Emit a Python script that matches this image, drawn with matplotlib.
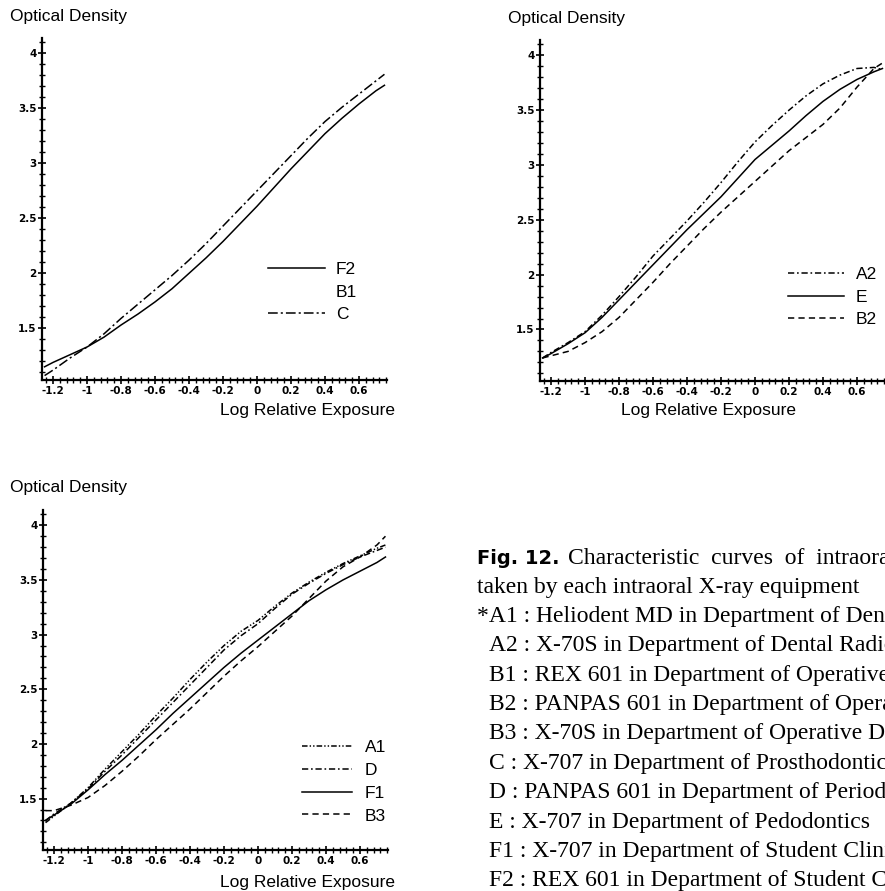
import matplotlib
matplotlib.use('Agg')
import numpy as np
import matplotlib.pyplot as plt
from matplotlib.ticker import MultipleLocator, FormatStrFormatter
from matplotlib.lines import Line2D

plt.rcParams['axes.unicode_minus'] = False
plt.rcParams['lines.scale_dashes'] = False

W, H = 885, 891

# log relative exposure, shared by every curve
logE = [-1.25, -1.2, -1.1, -1.0, -0.9, -0.8, -0.7, -0.6, -0.5, -0.4, -0.3,
        -0.2, -0.1, 0.0, 0.1, 0.2, 0.3, 0.4, 0.5, 0.6, 0.7, 0.75]

# panel 1
od_F2 = [1.15, 1.19, 1.26, 1.33, 1.42, 1.53, 1.63, 1.74, 1.86, 2.00, 2.14,
         2.29, 2.45, 2.61, 2.78, 2.95, 3.11, 3.27, 3.41, 3.54, 3.66, 3.71]
od_C = [1.07, 1.12, 1.23, 1.33, 1.45, 1.59, 1.72, 1.85, 1.98, 2.12, 2.27,
        2.43, 2.59, 2.75, 2.91, 3.07, 3.23, 3.38, 3.51, 3.63, 3.75, 3.81]

# panel 2
od_A2 = [1.24, 1.29, 1.38, 1.48, 1.63, 1.80, 1.98, 2.17, 2.33, 2.49, 2.66,
         2.84, 3.03, 3.21, 3.36, 3.50, 3.63, 3.74, 3.82, 3.88, 3.89, 3.87]
od_E = [1.24, 1.28, 1.37, 1.47, 1.61, 1.77, 1.93, 2.09, 2.25, 2.41, 2.56,
        2.71, 2.88, 3.05, 3.18, 3.31, 3.45, 3.58, 3.69, 3.78, 3.85, 3.88]
od_B2 = [1.24, 1.26, 1.30, 1.38, 1.48, 1.61, 1.77, 1.93, 2.10, 2.26, 2.42,
         2.57, 2.71, 2.85, 2.99, 3.13, 3.25, 3.37, 3.52, 3.71, 3.88, 3.93]

# panel 3
od_A1 = [1.28, 1.34, 1.46, 1.60, 1.77, 1.93, 2.09, 2.26, 2.42, 2.59, 2.75,
         2.90, 3.03, 3.13, 3.26, 3.38, 3.48, 3.57, 3.65, 3.72, 3.79, 3.82]
od_D = [1.30, 1.36, 1.46, 1.59, 1.75, 1.90, 2.06, 2.22, 2.38, 2.54, 2.70,
        2.86, 2.99, 3.10, 3.24, 3.37, 3.47, 3.56, 3.64, 3.71, 3.77, 3.80]
od_F1 = [1.30, 1.35, 1.45, 1.58, 1.72, 1.85, 1.99, 2.13, 2.28, 2.42, 2.56,
         2.70, 2.83, 2.95, 3.07, 3.19, 3.31, 3.41, 3.50, 3.58, 3.66, 3.71]
od_B3 = [1.39, 1.39, 1.44, 1.51, 1.62, 1.75, 1.89, 2.04, 2.18, 2.32, 2.47,
         2.62, 2.76, 2.89, 3.03, 3.17, 3.33, 3.49, 3.62, 3.71, 3.82, 3.90]

caption_head = 'Fig. 12.'
caption_first = 'Characteristic  curves  of  intraoral  films'
caption_lines = [
    'taken by each intraoral X-ray equipment',
    '*A1 : Heliodent MD in Department of Dental Radiology',
    'A2 : X-70S in Department of Dental Radiology',
    'B1 : REX 601 in Department of Operative Dentistry',
    'B2 : PANPAS 601 in Department of Operative Dentistry',
    'B3 : X-70S in Department of Operative Dentistry',
    'C : X-707 in Department of Prosthodontics',
    'D : PANPAS 601 in Department of Periodontology',
    'E : X-707 in Department of Pedodontics',
    'F1 : X-707 in Department of Student Clinic',
    'F2 : REX 601 in Department of Student Clinic',
]

SANS = 'Liberation Sans'
SERIF = 'Liberation Serif'

STYLES = {
    'solid': dict(linestyle='-'),
    'dashdot_long': dict(dashes=(7, 2.2, 1.5, 2.2)),
    'dashdot': dict(dashes=(4.5, 2, 1.2, 2)),
    'dashdotdot': dict(dashes=(4, 1.5, 1, 1.5, 1, 1.5)),
    'dashed': dict(dashes=(4.5, 3)),
}


def fx(x):
    return x / W


def fy(y):
    return 1 - y / H


def make_axes(fig, left, top, right, bottom):
    ax = fig.add_axes([fx(left), fy(bottom), fx(right - left), (bottom - top) / H])
    ax.set_xlim(-1.265, 0.765)
    ax.set_ylim(1.03, 4.14)
    for s in ['top', 'right']:
        ax.spines[s].set_visible(False)
    for s in ['left', 'bottom']:
        ax.spines[s].set_linewidth(1.6)
    ax.xaxis.set_major_locator(MultipleLocator(0.2))
    ax.xaxis.set_minor_locator(MultipleLocator(0.04))
    ax.yaxis.set_major_locator(MultipleLocator(0.5))
    ax.yaxis.set_minor_locator(MultipleLocator(0.1))
    ax.xaxis.set_major_formatter(FormatStrFormatter('%g'))
    ax.yaxis.set_major_formatter(FormatStrFormatter('%g'))
    ax.set_yticks([1.5, 2, 2.5, 3, 3.5, 4])
    ax.tick_params(which='major', direction='inout', length=6, width=1.2,
                   labelsize=7.5, pad=1)
    ax.tick_params(which='minor', direction='inout', length=4, width=1.0)
    for lab in ax.get_xticklabels() + ax.get_yticklabels():
        lab.set_fontweight('bold')
        lab.set_family('DejaVu Sans')
    ax.patch.set_alpha(0)
    return ax


def add_curves(ax, curves):
    handles = []
    for label, y, style in curves:
        if y is None:
            h = Line2D([], [], linestyle='none', label=label)
        else:
            h, = ax.plot(logE, y, color='black', lw=1.1, label=label, **STYLES[style])
        handles.append(h)
    return handles


def add_legend(fig, handles, x, y, hlen, pad, spacing):
    leg = fig.legend(handles=handles, loc='upper left',
                     bbox_to_anchor=(fx(x), fy(y)), frameon=False,
                     prop={'family': SANS, 'size': 12.5},
                     handlelength=hlen, handletextpad=pad, labelspacing=spacing,
                     borderpad=0, borderaxespad=0)
    return leg


fig = plt.figure(figsize=(W / 100, H / 100), dpi=100)

# panel 1
ax1 = make_axes(fig, 42, 38, 387, 380)
h1 = add_curves(ax1, [('F2', od_F2, 'solid'), ('B1', None, None),
                      ('C', od_C, 'dashdot_long')])
add_legend(fig, h1, 268, 262, 3.3, 0.6, 0.42)
fig.text(fx(10), fy(17), 'Optical Density', family=SANS, size=12.5, va='center')
fig.text(fx(395), fy(411), 'Log Relative Exposure', family=SANS, size=12.5,
         va='center', ha='right')

# panel 2
ax2 = make_axes(fig, 540, 40, 885, 381)
h2 = add_curves(ax2, [('A2', od_A2, 'dashdot'), ('E', od_E, 'solid'),
                      ('B2', od_B2, 'dashed')])
add_legend(fig, h2, 788, 267, 3.2, 0.7, 0.42)
fig.text(fx(508), fy(18), 'Optical Density', family=SANS, size=12.5, va='center')
fig.text(fx(796), fy(411), 'Log Relative Exposure', family=SANS, size=12.5,
         va='center', ha='right')

# panel 3
ax3 = make_axes(fig, 43, 510, 388, 850)
h3 = add_curves(ax3, [('A1', od_A1, 'dashdotdot'), ('D', od_D, 'dashdot'),
                      ('F1', od_F1, 'solid'), ('B3', od_B3, 'dashed')])
add_legend(fig, h3, 302, 740, 2.9, 0.7, 0.44)
fig.text(fx(10), fy(488), 'Optical Density', family=SANS, size=12.5, va='center')
fig.text(fx(395), fy(882), 'Log Relative Exposure', family=SANS, size=12.5,
         va='center', ha='right')

# caption
fig.text(fx(477), fy(558), caption_head, family='DejaVu Sans', weight='bold',
         size=14, va='center')
fig.text(fx(568), fy(558), caption_first, family=SERIF, size=17, va='center')
ypos = 587
for i, line in enumerate(caption_lines):
    xpos = 477 if (i <= 1) else 489
    fig.text(fx(xpos), fy(ypos), line, family=SERIF, size=17, va='center')
    ypos += 29.4

fig.savefig('out.png', dpi=100)
plt.close(fig)
